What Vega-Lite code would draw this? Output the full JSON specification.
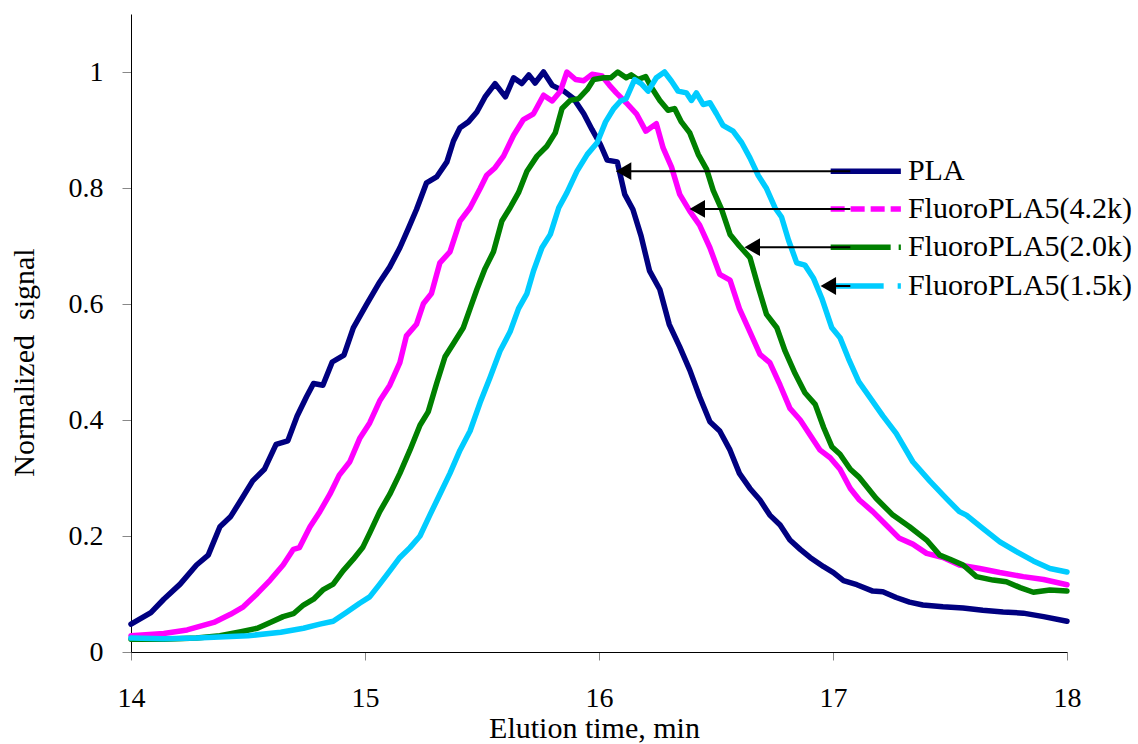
{
  "$schema": "https://vega.github.io/schema/vega-lite/v6.json",
  "width": 936,
  "height": 638,
  "autosize": {"type": "none"},
  "padding": {"left": 131, "top": 14, "right": 71, "bottom": 92},
  "background": "white",
  "config": {
    "view": {"stroke": null},
    "font": "Liberation Serif",
    "axis": {"labelFont": "Liberation Serif", "titleFont": "Liberation Serif", "labelColor": "black", "titleColor": "black", "titleFontWeight": "normal", "grid": false, "domainColor": "black", "domainWidth": 1, "tickColor": "#888888", "tickWidth": 1, "labelFlush": false, "labelOverlap": false}
  },
  "datasets": {
    "curves": [
      {"s":"PLA","t":14.0,"v":0.048},{"s":"PLA","t":14.085,"v":0.068},{"s":"PLA","t":14.14,"v":0.091},{"s":"PLA","t":14.21,"v":0.117},{"s":"PLA","t":14.28,"v":0.15},{"s":"PLA","t":14.33,"v":0.167},{"s":"PLA","t":14.38,"v":0.216},{"s":"PLA","t":14.425,"v":0.233},{"s":"PLA","t":14.47,"v":0.262},{"s":"PLA","t":14.52,"v":0.295},{"s":"PLA","t":14.57,"v":0.315},{"s":"PLA","t":14.62,"v":0.358},{"s":"PLA","t":14.67,"v":0.364},{"s":"PLA","t":14.71,"v":0.407},{"s":"PLA","t":14.75,"v":0.44},{"s":"PLA","t":14.78,"v":0.463},{"s":"PLA","t":14.82,"v":0.46},{"s":"PLA","t":14.86,"v":0.5},{"s":"PLA","t":14.91,"v":0.512},{"s":"PLA","t":14.95,"v":0.559},{"s":"PLA","t":15.005,"v":0.598},{"s":"PLA","t":15.063,"v":0.638},{"s":"PLA","t":15.106,"v":0.664},{"s":"PLA","t":15.149,"v":0.697},{"s":"PLA","t":15.185,"v":0.73},{"s":"PLA","t":15.22,"v":0.763},{"s":"PLA","t":15.263,"v":0.809},{"s":"PLA","t":15.306,"v":0.819},{"s":"PLA","t":15.35,"v":0.845},{"s":"PLA","t":15.378,"v":0.881},{"s":"PLA","t":15.406,"v":0.904},{"s":"PLA","t":15.442,"v":0.914},{"s":"PLA","t":15.478,"v":0.931},{"s":"PLA","t":15.513,"v":0.957},{"s":"PLA","t":15.556,"v":0.98},{"s":"PLA","t":15.6,"v":0.957},{"s":"PLA","t":15.635,"v":0.99},{"s":"PLA","t":15.67,"v":0.98},{"s":"PLA","t":15.7,"v":0.995},{"s":"PLA","t":15.727,"v":0.981},{"s":"PLA","t":15.763,"v":1.0},{"s":"PLA","t":15.8,"v":0.977},{"s":"PLA","t":15.85,"v":0.967},{"s":"PLA","t":15.892,"v":0.954},{"s":"PLA","t":15.935,"v":0.928},{"s":"PLA","t":15.97,"v":0.901},{"s":"PLA","t":16.006,"v":0.875},{"s":"PLA","t":16.035,"v":0.848},{"s":"PLA","t":16.078,"v":0.845},{"s":"PLA","t":16.11,"v":0.789},{"s":"PLA","t":16.145,"v":0.763},{"s":"PLA","t":16.18,"v":0.717},{"s":"PLA","t":16.216,"v":0.657},{"s":"PLA","t":16.26,"v":0.625},{"s":"PLA","t":16.3,"v":0.565},{"s":"PLA","t":16.345,"v":0.526},{"s":"PLA","t":16.388,"v":0.486},{"s":"PLA","t":16.43,"v":0.44},{"s":"PLA","t":16.474,"v":0.397},{"s":"PLA","t":16.516,"v":0.381},{"s":"PLA","t":16.56,"v":0.348},{"s":"PLA","t":16.6,"v":0.308},{"s":"PLA","t":16.645,"v":0.282},{"s":"PLA","t":16.688,"v":0.262},{"s":"PLA","t":16.73,"v":0.236},{"s":"PLA","t":16.774,"v":0.219},{"s":"PLA","t":16.816,"v":0.193},{"s":"PLA","t":16.86,"v":0.177},{"s":"PLA","t":16.902,"v":0.163},{"s":"PLA","t":16.96,"v":0.147},{"s":"PLA","t":17.002,"v":0.137},{"s":"PLA","t":17.045,"v":0.123},{"s":"PLA","t":17.102,"v":0.116},{"s":"PLA","t":17.17,"v":0.105},{"s":"PLA","t":17.213,"v":0.104},{"s":"PLA","t":17.27,"v":0.094},{"s":"PLA","t":17.327,"v":0.086},{"s":"PLA","t":17.384,"v":0.081},{"s":"PLA","t":17.47,"v":0.078},{"s":"PLA","t":17.556,"v":0.076},{"s":"PLA","t":17.64,"v":0.072},{"s":"PLA","t":17.727,"v":0.069},{"s":"PLA","t":17.813,"v":0.067},{"s":"PLA","t":17.9,"v":0.061},{"s":"PLA","t":18.0,"v":0.053},

      {"s":"FluoroPLA5(4.2k)","t":14.0,"v":0.028},{"s":"FluoroPLA5(4.2k)","t":14.14,"v":0.032},{"s":"FluoroPLA5(4.2k)","t":14.24,"v":0.038},{"s":"FluoroPLA5(4.2k)","t":14.354,"v":0.051},{"s":"FluoroPLA5(4.2k)","t":14.425,"v":0.065},{"s":"FluoroPLA5(4.2k)","t":14.48,"v":0.078},{"s":"FluoroPLA5(4.2k)","t":14.54,"v":0.101},{"s":"FluoroPLA5(4.2k)","t":14.595,"v":0.124},{"s":"FluoroPLA5(4.2k)","t":14.65,"v":0.15},{"s":"FluoroPLA5(4.2k)","t":14.694,"v":0.177},{"s":"FluoroPLA5(4.2k)","t":14.72,"v":0.18},{"s":"FluoroPLA5(4.2k)","t":14.765,"v":0.216},{"s":"FluoroPLA5(4.2k)","t":14.807,"v":0.242},{"s":"FluoroPLA5(4.2k)","t":14.85,"v":0.272},{"s":"FluoroPLA5(4.2k)","t":14.89,"v":0.305},{"s":"FluoroPLA5(4.2k)","t":14.935,"v":0.328},{"s":"FluoroPLA5(4.2k)","t":14.977,"v":0.368},{"s":"FluoroPLA5(4.2k)","t":15.02,"v":0.395},{"s":"FluoroPLA5(4.2k)","t":15.063,"v":0.433},{"s":"FluoroPLA5(4.2k)","t":15.106,"v":0.46},{"s":"FluoroPLA5(4.2k)","t":15.149,"v":0.499},{"s":"FluoroPLA5(4.2k)","t":15.177,"v":0.545},{"s":"FluoroPLA5(4.2k)","t":15.22,"v":0.565},{"s":"FluoroPLA5(4.2k)","t":15.25,"v":0.601},{"s":"FluoroPLA5(4.2k)","t":15.284,"v":0.618},{"s":"FluoroPLA5(4.2k)","t":15.32,"v":0.671},{"s":"FluoroPLA5(4.2k)","t":15.363,"v":0.69},{"s":"FluoroPLA5(4.2k)","t":15.406,"v":0.743},{"s":"FluoroPLA5(4.2k)","t":15.449,"v":0.766},{"s":"FluoroPLA5(4.2k)","t":15.492,"v":0.799},{"s":"FluoroPLA5(4.2k)","t":15.52,"v":0.822},{"s":"FluoroPLA5(4.2k)","t":15.556,"v":0.835},{"s":"FluoroPLA5(4.2k)","t":15.592,"v":0.855},{"s":"FluoroPLA5(4.2k)","t":15.635,"v":0.891},{"s":"FluoroPLA5(4.2k)","t":15.677,"v":0.918},{"s":"FluoroPLA5(4.2k)","t":15.72,"v":0.928},{"s":"FluoroPLA5(4.2k)","t":15.763,"v":0.96},{"s":"FluoroPLA5(4.2k)","t":15.8,"v":0.95},{"s":"FluoroPLA5(4.2k)","t":15.835,"v":0.967},{"s":"FluoroPLA5(4.2k)","t":15.863,"v":1.0},{"s":"FluoroPLA5(4.2k)","t":15.9,"v":0.987},{"s":"FluoroPLA5(4.2k)","t":15.935,"v":0.985},{"s":"FluoroPLA5(4.2k)","t":15.97,"v":0.996},{"s":"FluoroPLA5(4.2k)","t":16.013,"v":0.993},{"s":"FluoroPLA5(4.2k)","t":16.045,"v":0.977},{"s":"FluoroPLA5(4.2k)","t":16.074,"v":0.964},{"s":"FluoroPLA5(4.2k)","t":16.116,"v":0.947},{"s":"FluoroPLA5(4.2k)","t":16.16,"v":0.928},{"s":"FluoroPLA5(4.2k)","t":16.2,"v":0.898},{"s":"FluoroPLA5(4.2k)","t":16.245,"v":0.911},{"s":"FluoroPLA5(4.2k)","t":16.274,"v":0.869},{"s":"FluoroPLA5(4.2k)","t":16.31,"v":0.836},{"s":"FluoroPLA5(4.2k)","t":16.345,"v":0.789},{"s":"FluoroPLA5(4.2k)","t":16.388,"v":0.76},{"s":"FluoroPLA5(4.2k)","t":16.43,"v":0.736},{"s":"FluoroPLA5(4.2k)","t":16.474,"v":0.697},{"s":"FluoroPLA5(4.2k)","t":16.516,"v":0.651},{"s":"FluoroPLA5(4.2k)","t":16.56,"v":0.641},{"s":"FluoroPLA5(4.2k)","t":16.6,"v":0.592},{"s":"FluoroPLA5(4.2k)","t":16.645,"v":0.552},{"s":"FluoroPLA5(4.2k)","t":16.688,"v":0.513},{"s":"FluoroPLA5(4.2k)","t":16.73,"v":0.499},{"s":"FluoroPLA5(4.2k)","t":16.774,"v":0.46},{"s":"FluoroPLA5(4.2k)","t":16.816,"v":0.42},{"s":"FluoroPLA5(4.2k)","t":16.86,"v":0.4},{"s":"FluoroPLA5(4.2k)","t":16.902,"v":0.374},{"s":"FluoroPLA5(4.2k)","t":16.945,"v":0.348},{"s":"FluoroPLA5(4.2k)","t":16.988,"v":0.335},{"s":"FluoroPLA5(4.2k)","t":17.03,"v":0.315},{"s":"FluoroPLA5(4.2k)","t":17.074,"v":0.282},{"s":"FluoroPLA5(4.2k)","t":17.113,"v":0.262},{"s":"FluoroPLA5(4.2k)","t":17.17,"v":0.242},{"s":"FluoroPLA5(4.2k)","t":17.227,"v":0.219},{"s":"FluoroPLA5(4.2k)","t":17.284,"v":0.196},{"s":"FluoroPLA5(4.2k)","t":17.341,"v":0.186},{"s":"FluoroPLA5(4.2k)","t":17.4,"v":0.17},{"s":"FluoroPLA5(4.2k)","t":17.47,"v":0.163},{"s":"FluoroPLA5(4.2k)","t":17.54,"v":0.15},{"s":"FluoroPLA5(4.2k)","t":17.627,"v":0.144},{"s":"FluoroPLA5(4.2k)","t":17.713,"v":0.137},{"s":"FluoroPLA5(4.2k)","t":17.813,"v":0.13},{"s":"FluoroPLA5(4.2k)","t":17.9,"v":0.125},{"s":"FluoroPLA5(4.2k)","t":18.0,"v":0.116},

      {"s":"FluoroPLA5(2.0k)","t":14.0,"v":0.022},{"s":"FluoroPLA5(2.0k)","t":14.14,"v":0.022},{"s":"FluoroPLA5(2.0k)","t":14.28,"v":0.024},{"s":"FluoroPLA5(2.0k)","t":14.38,"v":0.028},{"s":"FluoroPLA5(2.0k)","t":14.47,"v":0.035},{"s":"FluoroPLA5(2.0k)","t":14.54,"v":0.041},{"s":"FluoroPLA5(2.0k)","t":14.595,"v":0.051},{"s":"FluoroPLA5(2.0k)","t":14.65,"v":0.061},{"s":"FluoroPLA5(2.0k)","t":14.694,"v":0.066},{"s":"FluoroPLA5(2.0k)","t":14.737,"v":0.081},{"s":"FluoroPLA5(2.0k)","t":14.78,"v":0.091},{"s":"FluoroPLA5(2.0k)","t":14.82,"v":0.107},{"s":"FluoroPLA5(2.0k)","t":14.864,"v":0.117},{"s":"FluoroPLA5(2.0k)","t":14.906,"v":0.14},{"s":"FluoroPLA5(2.0k)","t":14.95,"v":0.16},{"s":"FluoroPLA5(2.0k)","t":14.99,"v":0.18},{"s":"FluoroPLA5(2.0k)","t":15.02,"v":0.205},{"s":"FluoroPLA5(2.0k)","t":15.063,"v":0.242},{"s":"FluoroPLA5(2.0k)","t":15.106,"v":0.272},{"s":"FluoroPLA5(2.0k)","t":15.149,"v":0.308},{"s":"FluoroPLA5(2.0k)","t":15.192,"v":0.348},{"s":"FluoroPLA5(2.0k)","t":15.235,"v":0.391},{"s":"FluoroPLA5(2.0k)","t":15.27,"v":0.414},{"s":"FluoroPLA5(2.0k)","t":15.306,"v":0.463},{"s":"FluoroPLA5(2.0k)","t":15.342,"v":0.509},{"s":"FluoroPLA5(2.0k)","t":15.378,"v":0.532},{"s":"FluoroPLA5(2.0k)","t":15.42,"v":0.559},{"s":"FluoroPLA5(2.0k)","t":15.449,"v":0.592},{"s":"FluoroPLA5(2.0k)","t":15.478,"v":0.625},{"s":"FluoroPLA5(2.0k)","t":15.513,"v":0.661},{"s":"FluoroPLA5(2.0k)","t":15.549,"v":0.69},{"s":"FluoroPLA5(2.0k)","t":15.585,"v":0.743},{"s":"FluoroPLA5(2.0k)","t":15.62,"v":0.766},{"s":"FluoroPLA5(2.0k)","t":15.656,"v":0.792},{"s":"FluoroPLA5(2.0k)","t":15.692,"v":0.829},{"s":"FluoroPLA5(2.0k)","t":15.735,"v":0.855},{"s":"FluoroPLA5(2.0k)","t":15.777,"v":0.872},{"s":"FluoroPLA5(2.0k)","t":15.813,"v":0.895},{"s":"FluoroPLA5(2.0k)","t":15.842,"v":0.937},{"s":"FluoroPLA5(2.0k)","t":15.877,"v":0.951},{"s":"FluoroPLA5(2.0k)","t":15.913,"v":0.954},{"s":"FluoroPLA5(2.0k)","t":15.95,"v":0.97},{"s":"FluoroPLA5(2.0k)","t":15.977,"v":0.987},{"s":"FluoroPLA5(2.0k)","t":16.02,"v":0.99},{"s":"FluoroPLA5(2.0k)","t":16.05,"v":0.99},{"s":"FluoroPLA5(2.0k)","t":16.08,"v":1.0},{"s":"FluoroPLA5(2.0k)","t":16.116,"v":0.99},{"s":"FluoroPLA5(2.0k)","t":16.138,"v":0.995},{"s":"FluoroPLA5(2.0k)","t":16.166,"v":0.987},{"s":"FluoroPLA5(2.0k)","t":16.2,"v":0.992},{"s":"FluoroPLA5(2.0k)","t":16.223,"v":0.974},{"s":"FluoroPLA5(2.0k)","t":16.26,"v":0.951},{"s":"FluoroPLA5(2.0k)","t":16.295,"v":0.934},{"s":"FluoroPLA5(2.0k)","t":16.323,"v":0.937},{"s":"FluoroPLA5(2.0k)","t":16.352,"v":0.914},{"s":"FluoroPLA5(2.0k)","t":16.388,"v":0.895},{"s":"FluoroPLA5(2.0k)","t":16.424,"v":0.858},{"s":"FluoroPLA5(2.0k)","t":16.46,"v":0.832},{"s":"FluoroPLA5(2.0k)","t":16.488,"v":0.796},{"s":"FluoroPLA5(2.0k)","t":16.524,"v":0.763},{"s":"FluoroPLA5(2.0k)","t":16.56,"v":0.72},{"s":"FluoroPLA5(2.0k)","t":16.6,"v":0.7},{"s":"FluoroPLA5(2.0k)","t":16.645,"v":0.68},{"s":"FluoroPLA5(2.0k)","t":16.68,"v":0.63},{"s":"FluoroPLA5(2.0k)","t":16.716,"v":0.582},{"s":"FluoroPLA5(2.0k)","t":16.76,"v":0.559},{"s":"FluoroPLA5(2.0k)","t":16.795,"v":0.519},{"s":"FluoroPLA5(2.0k)","t":16.838,"v":0.48},{"s":"FluoroPLA5(2.0k)","t":16.88,"v":0.447},{"s":"FluoroPLA5(2.0k)","t":16.924,"v":0.427},{"s":"FluoroPLA5(2.0k)","t":16.96,"v":0.387},{"s":"FluoroPLA5(2.0k)","t":16.995,"v":0.354},{"s":"FluoroPLA5(2.0k)","t":17.03,"v":0.341},{"s":"FluoroPLA5(2.0k)","t":17.074,"v":0.315},{"s":"FluoroPLA5(2.0k)","t":17.11,"v":0.302},{"s":"FluoroPLA5(2.0k)","t":17.184,"v":0.265},{"s":"FluoroPLA5(2.0k)","t":17.256,"v":0.236},{"s":"FluoroPLA5(2.0k)","t":17.327,"v":0.216},{"s":"FluoroPLA5(2.0k)","t":17.4,"v":0.193},{"s":"FluoroPLA5(2.0k)","t":17.456,"v":0.167},{"s":"FluoroPLA5(2.0k)","t":17.5,"v":0.16},{"s":"FluoroPLA5(2.0k)","t":17.556,"v":0.15},{"s":"FluoroPLA5(2.0k)","t":17.613,"v":0.13},{"s":"FluoroPLA5(2.0k)","t":17.684,"v":0.124},{"s":"FluoroPLA5(2.0k)","t":17.741,"v":0.121},{"s":"FluoroPLA5(2.0k)","t":17.8,"v":0.111},{"s":"FluoroPLA5(2.0k)","t":17.856,"v":0.103},{"s":"FluoroPLA5(2.0k)","t":17.927,"v":0.107},{"s":"FluoroPLA5(2.0k)","t":18.0,"v":0.105},

      {"s":"FluoroPLA5(1.5k)","t":14.0,"v":0.024},{"s":"FluoroPLA5(1.5k)","t":14.14,"v":0.023},{"s":"FluoroPLA5(1.5k)","t":14.28,"v":0.024},{"s":"FluoroPLA5(1.5k)","t":14.5,"v":0.028},{"s":"FluoroPLA5(1.5k)","t":14.64,"v":0.034},{"s":"FluoroPLA5(1.5k)","t":14.737,"v":0.041},{"s":"FluoroPLA5(1.5k)","t":14.807,"v":0.048},{"s":"FluoroPLA5(1.5k)","t":14.864,"v":0.053},{"s":"FluoroPLA5(1.5k)","t":14.92,"v":0.068},{"s":"FluoroPLA5(1.5k)","t":14.977,"v":0.084},{"s":"FluoroPLA5(1.5k)","t":15.02,"v":0.095},{"s":"FluoroPLA5(1.5k)","t":15.063,"v":0.117},{"s":"FluoroPLA5(1.5k)","t":15.106,"v":0.14},{"s":"FluoroPLA5(1.5k)","t":15.149,"v":0.163},{"s":"FluoroPLA5(1.5k)","t":15.192,"v":0.18},{"s":"FluoroPLA5(1.5k)","t":15.235,"v":0.2},{"s":"FluoroPLA5(1.5k)","t":15.277,"v":0.236},{"s":"FluoroPLA5(1.5k)","t":15.32,"v":0.272},{"s":"FluoroPLA5(1.5k)","t":15.363,"v":0.308},{"s":"FluoroPLA5(1.5k)","t":15.406,"v":0.348},{"s":"FluoroPLA5(1.5k)","t":15.449,"v":0.381},{"s":"FluoroPLA5(1.5k)","t":15.492,"v":0.43},{"s":"FluoroPLA5(1.5k)","t":15.534,"v":0.473},{"s":"FluoroPLA5(1.5k)","t":15.577,"v":0.519},{"s":"FluoroPLA5(1.5k)","t":15.62,"v":0.552},{"s":"FluoroPLA5(1.5k)","t":15.656,"v":0.592},{"s":"FluoroPLA5(1.5k)","t":15.692,"v":0.618},{"s":"FluoroPLA5(1.5k)","t":15.72,"v":0.657},{"s":"FluoroPLA5(1.5k)","t":15.756,"v":0.697},{"s":"FluoroPLA5(1.5k)","t":15.792,"v":0.72},{"s":"FluoroPLA5(1.5k)","t":15.828,"v":0.766},{"s":"FluoroPLA5(1.5k)","t":15.863,"v":0.792},{"s":"FluoroPLA5(1.5k)","t":15.906,"v":0.829},{"s":"FluoroPLA5(1.5k)","t":15.95,"v":0.858},{"s":"FluoroPLA5(1.5k)","t":15.992,"v":0.878},{"s":"FluoroPLA5(1.5k)","t":16.028,"v":0.914},{"s":"FluoroPLA5(1.5k)","t":16.063,"v":0.937},{"s":"FluoroPLA5(1.5k)","t":16.092,"v":0.95},{"s":"FluoroPLA5(1.5k)","t":16.116,"v":0.954},{"s":"FluoroPLA5(1.5k)","t":16.152,"v":0.987},{"s":"FluoroPLA5(1.5k)","t":16.18,"v":0.98},{"s":"FluoroPLA5(1.5k)","t":16.21,"v":0.967},{"s":"FluoroPLA5(1.5k)","t":16.245,"v":0.99},{"s":"FluoroPLA5(1.5k)","t":16.28,"v":1.0},{"s":"FluoroPLA5(1.5k)","t":16.31,"v":0.984},{"s":"FluoroPLA5(1.5k)","t":16.338,"v":0.967},{"s":"FluoroPLA5(1.5k)","t":16.374,"v":0.964},{"s":"FluoroPLA5(1.5k)","t":16.395,"v":0.951},{"s":"FluoroPLA5(1.5k)","t":16.416,"v":0.964},{"s":"FluoroPLA5(1.5k)","t":16.445,"v":0.944},{"s":"FluoroPLA5(1.5k)","t":16.474,"v":0.947},{"s":"FluoroPLA5(1.5k)","t":16.502,"v":0.928},{"s":"FluoroPLA5(1.5k)","t":16.53,"v":0.908},{"s":"FluoroPLA5(1.5k)","t":16.573,"v":0.898},{"s":"FluoroPLA5(1.5k)","t":16.61,"v":0.878},{"s":"FluoroPLA5(1.5k)","t":16.645,"v":0.852},{"s":"FluoroPLA5(1.5k)","t":16.68,"v":0.822},{"s":"FluoroPLA5(1.5k)","t":16.716,"v":0.799},{"s":"FluoroPLA5(1.5k)","t":16.752,"v":0.766},{"s":"FluoroPLA5(1.5k)","t":16.78,"v":0.75},{"s":"FluoroPLA5(1.5k)","t":16.81,"v":0.71},{"s":"FluoroPLA5(1.5k)","t":16.845,"v":0.671},{"s":"FluoroPLA5(1.5k)","t":16.88,"v":0.667},{"s":"FluoroPLA5(1.5k)","t":16.916,"v":0.645},{"s":"FluoroPLA5(1.5k)","t":16.952,"v":0.61},{"s":"FluoroPLA5(1.5k)","t":16.995,"v":0.559},{"s":"FluoroPLA5(1.5k)","t":17.03,"v":0.542},{"s":"FluoroPLA5(1.5k)","t":17.066,"v":0.506},{"s":"FluoroPLA5(1.5k)","t":17.11,"v":0.466},{"s":"FluoroPLA5(1.5k)","t":17.156,"v":0.44},{"s":"FluoroPLA5(1.5k)","t":17.213,"v":0.407},{"s":"FluoroPLA5(1.5k)","t":17.27,"v":0.377},{"s":"FluoroPLA5(1.5k)","t":17.341,"v":0.328},{"s":"FluoroPLA5(1.5k)","t":17.413,"v":0.295},{"s":"FluoroPLA5(1.5k)","t":17.484,"v":0.265},{"s":"FluoroPLA5(1.5k)","t":17.54,"v":0.242},{"s":"FluoroPLA5(1.5k)","t":17.57,"v":0.236},{"s":"FluoroPLA5(1.5k)","t":17.64,"v":0.213},{"s":"FluoroPLA5(1.5k)","t":17.713,"v":0.19},{"s":"FluoroPLA5(1.5k)","t":17.784,"v":0.173},{"s":"FluoroPLA5(1.5k)","t":17.856,"v":0.157},{"s":"FluoroPLA5(1.5k)","t":17.927,"v":0.144},{"s":"FluoroPLA5(1.5k)","t":18.0,"v":0.138}
    ],
    "legend": [
      {"s":"PLA","y":0.829,"x1":16.99,"x2":17.29,"tx":17.32,"head":16.105,"ae":17.074},
      {"s":"FluoroPLA5(4.2k)","y":0.764,"x1":16.99,"x2":17.29,"tx":17.32,"head":16.42,"ae":17.074},
      {"s":"FluoroPLA5(2.0k)","y":0.698,"x1":16.99,"x2":17.29,"tx":17.32,"head":16.655,"ae":17.074},
      {"s":"FluoroPLA5(1.5k)","y":0.631,"x1":16.99,"x2":17.29,"tx":17.32,"head":16.98,"ae":17.074}
    ]
  },
  "layer": [
    {
      "data": {"name": "curves"},
      "mark": {"type": "line", "strokeWidth": 5.5, "strokeJoin": "round", "strokeCap": "round"},
      "encoding": {
        "x": {"field": "t", "type": "quantitative", "scale": {"domain": [14, 18], "nice": false, "zero": false},
          "axis": {"values": [14, 15, 16, 17, 18], "format": "d", "title": "Elution time, min", "tickSize": 8, "labelFontSize": 28, "labelPadding": 24, "titleFontSize": 30, "titleBaseline": "alphabetic", "titleY": 85, "titleX": 463}},
        "y": {"field": "v", "type": "quantitative", "scale": {"domain": [0, 1.1], "nice": false},
          "axis": {"values": [0, 0.2, 0.4, 0.6, 0.8, 1], "format": "~g", "title": "Normalized\u00a0 signal", "tickSize": 9, "labelFontSize": 28, "labelPadding": 19, "titleFontSize": 30, "titleAngle": 270, "titleBaseline": "alphabetic", "titleAlign": "center", "titleX": -98, "titleY": 348}},
        "color": {"field": "s", "type": "nominal", "legend": null,
          "scale": {"domain": ["PLA", "FluoroPLA5(4.2k)", "FluoroPLA5(2.0k)", "FluoroPLA5(1.5k)"], "range": ["#000080", "#FF00FF", "#008000", "#00CCFF"]}},
        "order": {"field": "t", "type": "quantitative"}
      }
    },
    {
      "data": {"name": "legend"},
      "mark": {"type": "rule", "strokeWidth": 5.5, "strokeCap": "butt"},
      "encoding": {
        "x": {"field": "x1", "type": "quantitative"},
        "x2": {"field": "x2"},
        "y": {"field": "y", "type": "quantitative"},
        "color": {"field": "s", "type": "nominal", "legend": null},
        "strokeDash": {"field": "s", "type": "nominal", "legend": null,
          "scale": {"domain": ["PLA", "FluoroPLA5(4.2k)", "FluoroPLA5(2.0k)", "FluoroPLA5(1.5k)"], "range": [[1, 0], [14, 6], [60, 8, 4, 40], [53, 14, 5, 40]]}}
      }
    },
    {
      "data": {"name": "legend"},
      "mark": {"type": "rule", "strokeWidth": 2, "color": "black"},
      "encoding": {
        "x": {"field": "head", "type": "quantitative"},
        "x2": {"field": "ae"},
        "y": {"field": "y", "type": "quantitative"}
      }
    },
    {
      "data": {"name": "legend"},
      "mark": {"type": "point", "shape": "triangle-left", "filled": true, "color": "black", "size": 320, "opacity": 1},
      "encoding": {
        "x": {"field": "head", "type": "quantitative"},
        "y": {"field": "y", "type": "quantitative"}
      }
    },
    {
      "data": {"name": "legend"},
      "mark": {"type": "text", "align": "left", "baseline": "middle", "fontSize": 30, "font": "Liberation Serif", "color": "black"},
      "encoding": {
        "x": {"field": "tx", "type": "quantitative"},
        "y": {"field": "y", "type": "quantitative"},
        "text": {"field": "s"}
      }
    }
  ]
}
